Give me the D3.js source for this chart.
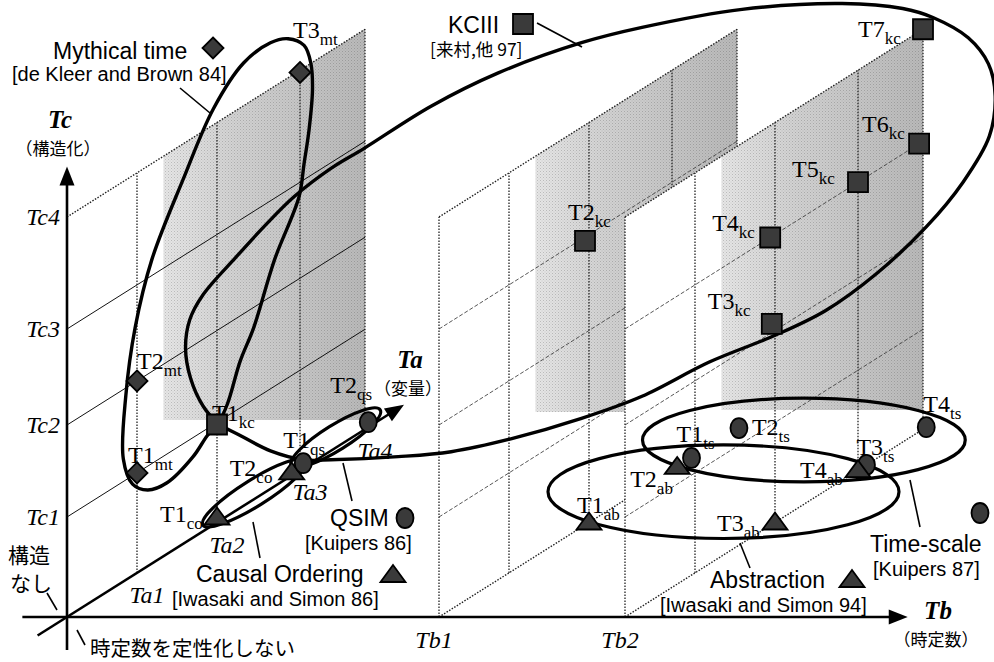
<!DOCTYPE html>
<html><head><meta charset="utf-8">
<script src="https://cdn.jsdelivr.net/npm/d3@7/dist/d3.min.js"></script>
<style>body{margin:0;background:#fff}svg{display:block}</style>
</head><body>
<svg id="c" width="994" height="662"></svg>
<script>
// ================= DATA =================
const taTicks = ["Ta1","Ta2","Ta3","Ta4"];
const tbTicks = ["Tb1","Tb2"];
const tcTicks = ["Tc1","Tc2","Tc3","Tc4"];
const planeTb = [0, 1, 2];               // Ta-Tc planes standing at Tb = 0, Tb1, Tb2

// points as [Ta, Tb, Tc]
const mythNames = ["T1","T2","T3"];
const mythPts   = [[1,0,1],[1,0,2],[3,0,3.98]];
const kcNames   = ["T1","T2","T3","T4","T5","T6","T7"];
const kcPts     = [[2,0,0.98],[1.95,1,2.96],[1.96,2,2.09],[1.94,2,3],[3,2,3],[3.94,2,3],[4,2,4]];
const coNames   = ["T1","T2"];
const coPts     = [[2,0,0.05],[2.9,0,0.03]];
const qsNames   = ["T1","T2"];
const qsPts     = [[3.05,0,0.05],[4.05,0,0.05]];
const tsNames   = ["T1","T2","T3","T4"];
const tsPts     = [[3.3,1,0],[4.03,1,0],[3.13,2,0],[4.05,2,0]];
const abNames   = ["T1","T2","T3","T4"];
const abPts     = [[2,1,0],[3.08,1,0],[2,2,0],[3,2,0]];

// hand-drawn enclosing curves, in % of the Tb axis length / % of the Tc axis length
const mythLoop = [[18.0,43.0],[19.1,47.4],[20.6,56.8],[22.2,64.2],[24.7,79.4],[27.6,93.3],[28.2,100.7],[28.8,108.3],[29.2,117.2],[29.0,123.0],[28.2,126.9],[26.3,128.4],[24.2,127.5],[21.0,123.0],[17.4,112.8],[13.8,97.1],[10.1,79.4],[8.1,64.2],[7.0,49.2],[6.7,35.1],[7.8,29.5],[9.6,28.2],[11.9,29.8],[15.0,35.6],[16.7,40.3]];
const kcLoop = [[18.0,43.0],[16.2,46.8],[14.7,53.0],[14.1,59.7],[14.6,66.0],[16.2,71.6],[20.1,79.9],[23.6,87.0],[27.0,93.3],[31.4,99.6],[35.3,104.0],[43.3,113.4],[51.3,120.8],[61.2,127.5],[68.4,130.9],[80.3,134.9],[92.2,136.2],[99.4,135.1],[103.0,133.1],[107.2,128.6],[109.6,122.8],[110.4,115.7],[109.7,106.7],[106.6,96.6],[102.2,86.6],[96.2,76.1],[90.2,68.0],[84.3,62.6],[76.4,56.6],[68.4,49.0],[61.2,44.1],[52.9,39.6],[45.7,36.7],[39.4,35.6],[31.4,34.9],[28.2,34.9],[24.2,36.9],[20.6,40.3]];

const legendTitles = ["Mythical time","KCIII","QSIM","Causal Ordering","Abstraction","Time-scale"];
const legendRefs   = ["[de Kleer and Brown 84]","[来村,他 97]","[Kuipers 86]","[Iwasaki and Simon 86]","[Iwasaki and Simon 94]","[Kuipers 87]"];

// ================= PROJECTION =================
const O = {x:67, y:617}, K = 0.63;
const sa = d3.scaleLinear().domain([0,1,2,3,4]).range([0,70,150,233,298]);
const sb = d3.scaleLinear().domain([0,1,2]).range([0,372,558]);
const sc = d3.scaleLinear().domain([0,1,2,3,4]).range([0,100,192,288,400]);
const P = (a,b,c) => { const d = sa(a); return [O.x + d + sb(b), O.y - K*d - sc(c)]; };
const ux = d3.scaleLinear().domain([0,100]).range([O.x, O.x + sb(3.52)]);
const vy = d3.scaleLinear().domain([0,100]).range([O.y, O.y - sc(4.45)]);

const svg = d3.select("#c");
const defs = svg.append("defs");
const SERIF = "'Liberation Serif','Times New Roman',serif";
const SANS = "'Liberation Sans',Arial,sans-serif";
const CJK = "'Noto Sans CJK JP',sans-serif";

// halftone texture
const pat = defs.append("pattern").attr("id","dots").attr("width",3).attr("height",3).attr("patternUnits","userSpaceOnUse");
pat.append("rect").attr("x",0).attr("y",0).attr("width",1).attr("height",1).attr("fill","#000").attr("opacity",0.18);
pat.append("rect").attr("x",1.5).attr("y",1.5).attr("width",1).attr("height",1).attr("fill","#000").attr("opacity",0.12);

// ================= PLANES =================
const shadeStart = 1.33;
const shadeCut = [420, 412, 410];
planeTb.forEach((b, i) => {
  const g = svg.append("g");
  const poly = [P(0,b,0),P(4,b,0),P(4,b,4),P(0,b,4)];
  g.append("path").attr("d", d3.line()(poly)+"Z").attr("fill","#fff");
  const gid = "shade"+i;
  const x0 = P(shadeStart,b,0)[0], x1 = P(4,b,0)[0];
  const grad = defs.append("linearGradient").attr("id",gid).attr("gradientUnits","userSpaceOnUse")
    .attr("x1",x0).attr("x2",x1).attr("y1",0).attr("y2",0);
  grad.append("stop").attr("offset",0).attr("stop-color","#e6e6e6");
  grad.append("stop").attr("offset",0.35).attr("stop-color","#d2d2d2");
  grad.append("stop").attr("offset",1).attr("stop-color","#b9b9b9");
  const shade = d3.line()([P(shadeStart,b,4), P(4,b,4), [x1, shadeCut[i]], [x0, shadeCut[i]]])+"Z";
  g.append("path").attr("d", shade).attr("fill","url(#"+gid+")");
  g.append("path").attr("d", shade).attr("fill","url(#dots)");
  // Tc level lines
  [1,2,3].forEach(c => {
    const p0 = P(0,b,c), p1 = P(4,b,c);
    g.append("line").attr("x1",p0[0]).attr("y1",p0[1]).attr("x2",p1[0]).attr("y2",p1[1])
      .attr("stroke", b===0 ? "#111" : "#444").attr("stroke-width", b===0 ? 1 : 0.9)
      .attr("stroke-dasharray", b===0 ? null : "4,2");
  });
  // verticals at Ta levels (+ plane edges)
  const verts = b===0 ? [1,2,3,4] : [0,1,2,3,4];
  verts.forEach(a => {
    const p0 = P(a,b,0), p1 = P(a,b,4);
    g.append("line").attr("x1",p0[0]).attr("y1",p0[1]).attr("x2",p1[0]).attr("y2",p1[1])
      .attr("stroke","#222").attr("stroke-width",1.3).attr("stroke-dasharray","1.5,1.5");
  });
  // top edge and base edge
  const edges = b===0 ? [4] : [0,4];
  edges.forEach(c => {
    const p0 = P(0,b,c), p1 = P(4,b,c);
    g.append("line").attr("x1",p0[0]).attr("y1",p0[1]).attr("x2",p1[0]).attr("y2",p1[1])
      .attr("stroke","#222").attr("stroke-width",1.4).attr("stroke-dasharray","1.5,1.5");
  });
});

// ================= AXES =================
function arrowLine(p0, p1, len, wid) {
  const dx = p1[0]-p0[0], dy = p1[1]-p0[1], L = Math.hypot(dx,dy), ex = dx/L, ey = dy/L;
  const base = [p1[0]-ex*len, p1[1]-ey*len];
  svg.append("line").attr("x1",p0[0]).attr("y1",p0[1]).attr("x2",base[0]+ex*2).attr("y2",base[1]+ey*2)
    .attr("stroke","#000").attr("stroke-width",2.6);
  const nx = -ey*wid/2, ny = ex*wid/2;
  svg.append("path").attr("d", d3.line()([p1,[base[0]+nx,base[1]+ny],[base[0]-nx,base[1]-ny]])+"Z").attr("fill","#000");
}
arrowLine(P(0,0,-0.33), P(0,0,4.45), 19, 15);   // Tc
arrowLine(P(0,-0.12,0), P(0,3.52,0), 19, 15);   // Tb
arrowLine(P(-0.42,0,0), P(4.6,0,0), 19, 15);    // Ta

// tick labels
tcTicks.forEach((t,i) => {
  const p = P(0,0,i+1);
  svg.append("text").attr("x",p[0]-7).attr("y",p[1]+8).attr("text-anchor","end")
    .attr("font-family",SERIF).attr("font-style","italic").attr("font-size",24).text(t);
});
taTicks.forEach((t,i) => {
  const p = P(i+1,0,0);
  svg.append("text").attr("x",p[0]+10).attr("y",p[1]+30).attr("text-anchor","middle")
    .attr("font-family",SERIF).attr("font-style","italic").attr("font-size",24).text(t);
});
tbTicks.forEach((t,i) => {
  const p = P(0,i+1,0);
  svg.append("text").attr("x",p[0]-5).attr("y",p[1]+31).attr("text-anchor","middle")
    .attr("font-family",SERIF).attr("font-style","italic").attr("font-size",24).text(t);
});

// axis titles
function axisTitle(x, y, main, jp) {
  svg.append("text").attr("x",x).attr("y",y).attr("text-anchor","middle").attr("font-family",SERIF)
    .attr("font-style","italic").attr("font-weight","bold").attr("font-size",25).text(main);
  svg.append("text").attr("x",x-2).attr("y",y+27).attr("text-anchor","middle").attr("font-family",CJK)
    .attr("font-size",17).text(jp);
}
axisTitle(60, 128, "Tc", "（構造化）");
axisTitle(410, 368, "Ta", "（変量）");
axisTitle(938, 619, "Tb", "（時定数）");

svg.append("text").attr("x",8).attr("y",563).attr("font-family",CJK).attr("font-size",21).text("構造");
svg.append("text").attr("x",10).attr("y",591).attr("font-family",CJK).attr("font-size",21).text("なし");
svg.append("text").attr("x",90).attr("y",656).attr("font-family",CJK).attr("font-size",20.5).text("時定数を定性化しない");

// ================= LOOPS =================
const loopLine = d3.line().x(d=>ux(d[0])).y(d=>vy(d[1])).curve(d3.curveCatmullRomClosed.alpha(0.5));
[mythLoop, kcLoop].forEach(L => {
  svg.append("path").attr("d", loopLine(L)).attr("fill","none").attr("stroke","#000").attr("stroke-width",3.4);
});

function ellipseAround(pts, cfg) {
  const th = cfg.rot*Math.PI/180, cs = Math.cos(th), sn = Math.sin(th);
  const r = pts.map(([x,y]) => [x*cs + y*sn, -x*sn + y*cs]);
  const ex = d3.extent(r, d=>d[0]), ey = d3.extent(r, d=>d[1]);
  const cu = (ex[0]+ex[1])/2, cv = (ey[0]+ey[1])/2;
  return {cx: cu*cs - cv*sn + cfg.dx, cy: cu*sn + cv*cs + cfg.dy,
          rx: (ex[1]-ex[0])/2 + cfg.px, ry: (ey[1]-ey[0])/2 + cfg.py, rot: cfg.rot};
}
const proj = arr => arr.map(d => P(d[0],d[1],d[2]));
[
  [coPts, {rot:-32, px:17, py:12.5, dx:0, dy:-2}],
  [qsPts, {rot:-32, px:14, py:12.5, dx:0, dy:-5}],
  [abPts, {rot:0, px:41, py:19, dx:0, dy:-3}],
  [tsPts, {rot:0, px:44, py:23, dx:-5, dy:-6}]
].forEach(([pts, cfg]) => {
  const e = ellipseAround(proj(pts), cfg);
  svg.append("ellipse").attr("cx",e.cx).attr("cy",e.cy).attr("rx",e.rx).attr("ry",e.ry)
    .attr("transform",`rotate(${e.rot} ${e.cx} ${e.cy})`)
    .attr("fill","none").attr("stroke","#000").attr("stroke-width",3.2);
});

// ================= MARKERS =================
const shapes = {
  square: "M-10,-10H10V10H-10Z",
  diamond: "M0,-10.5L10.5,0L0,10.5L-10.5,0Z",
  triangle: "M0,-10L12.5,7L-12.5,7Z"
};
function mark(x, y, kind) {
  const el = kind === "circle"
    ? svg.append("ellipse").attr("cx",x).attr("cy",y).attr("rx",8.5).attr("ry",10)
    : svg.append("path").attr("d",shapes[kind]).attr("transform",`translate(${x},${y})`);
  el.attr("fill","#3a3a3a").attr("stroke","#000").attr("stroke-width",1.8);
}
function tlabel(x, y, main, sub) {
  const t = svg.append("text").attr("x",x).attr("y",y).attr("font-family",SERIF).attr("font-size",24).attr("fill","#000");
  t.append("tspan").text(main);
  t.append("tspan").attr("dy",7).attr("font-size",17).text(sub);
}
const series = [
  {pts:mythPts, names:mythNames, sub:"mt", kind:"diamond", off:[[-9,-10],[0,-12],[-7,-34]]},
  {pts:kcPts, names:kcNames, sub:"kc", kind:"square", off:[[-5,-4],[-17,-21],[-64,-15],[-58,-7],[-66,-5],[-57,-12],[-65,8]]},
  {pts:coPts, names:coNames, sub:"co", kind:"triangle", off:[[-57,4],[-62,4]]},
  {pts:qsPts, names:qsNames, sub:"qs", kind:"circle", off:[[-20,-15],[-38,-29]]},
  {pts:tsPts, names:tsNames, sub:"ts", kind:"circle", off:[[-15,-16],[13,7],[-10,-10],[-3,-15]]},
  {pts:abPts, names:abNames, sub:"ab", kind:"triangle", off:[[-12,-10],[-47,20],[-58,8],[-58,8]]}
];
series.forEach(s => s.pts.forEach((d,i) => {
  const p = P(d[0],d[1],d[2]);
  tlabel(p[0]+s.off[i][0], p[1]+s.off[i][1], s.names[i], s.sub);
}));
series.forEach(s => s.pts.forEach(d => { const p = P(d[0],d[1],d[2]); mark(p[0],p[1],s.kind); }));

// ================= LEGEND ANNOTATIONS =================
const legendLayout = [
  {t:[53,59], r:[12,81], sym:"diamond", s:[213,48], lead:[[180,88],[210,113]], rf:SANS, rs:20},
  {t:[448,33], r:[430,56], sym:"square", s:[523,24], lead:[[537,23],[582,47]], rf:CJK+","+SANS, rs:17.5},
  {t:[330,526], r:[305,550], sym:"circle", s:[405,518], lead:[[352,501],[343,463]], rf:SANS, rs:20},
  {t:[196,582], r:[172,606], sym:"triangle", s:[393,575], lead:[[260,558],[253,522]], rf:SANS, rs:20},
  {t:[710,588], r:[660,612], sym:"triangle", s:[852,580], lead:[[750,568],[740,543]], rf:SANS, rs:20},
  {t:[870,552], r:[873,576], sym:"circle", s:[980,513], lead:[[920,527],[910,480]], rf:SANS, rs:20}
];
legendLayout.forEach((L,i) => {
  svg.append("line").attr("x1",L.lead[0][0]).attr("y1",L.lead[0][1]).attr("x2",L.lead[1][0]).attr("y2",L.lead[1][1])
    .attr("stroke","#000").attr("stroke-width",1.6);
  svg.append("text").attr("x",L.t[0]).attr("y",L.t[1]).attr("font-family",SANS).attr("font-size",23).text(legendTitles[i]);
  svg.append("text").attr("x",L.r[0]).attr("y",L.r[1]).attr("font-family",L.rf).attr("font-size",L.rs).text(legendRefs[i]);
  mark(L.s[0], L.s[1], L.sym);
});
// small leader strokes near the origin
[[[47,593],[57,610]],[[77,630],[85,645]]].forEach(l => {
  svg.append("line").attr("x1",l[0][0]).attr("y1",l[0][1]).attr("x2",l[1][0]).attr("y2",l[1][1])
    .attr("stroke","#000").attr("stroke-width",1.6);
});
</script>
</body></html>
